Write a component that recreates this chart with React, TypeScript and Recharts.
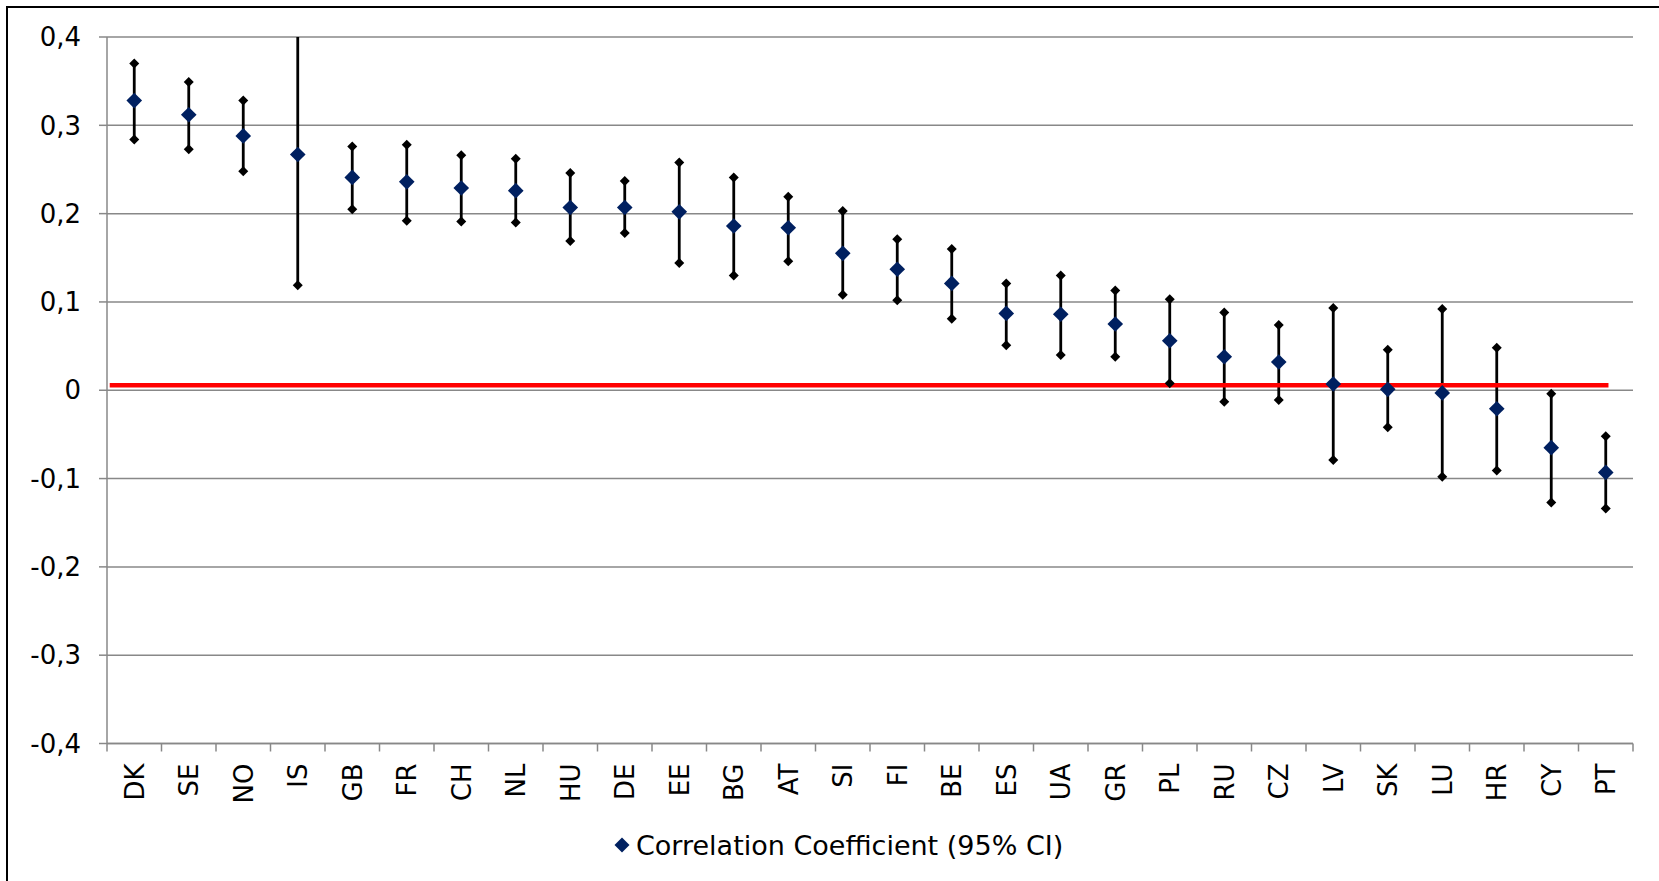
import React from 'react';
import {
  ComposedChart, Scatter, XAxis, YAxis, CartesianGrid, ErrorBar, ReferenceLine, Legend,
} from 'recharts';

const CATS = ['DK','SE','NO','IS','GB','FR','CH','NL','HU','DE','EE','BG','AT','SI','FI','BE','ES','UA','GR','PL','RU','CZ','LV','SK','LU','HR','CY','PT'];
const R = [0.328,0.312,0.288,0.267,0.241,0.236,0.229,0.226,0.207,0.207,0.202,0.186,0.184,0.155,0.137,0.121,0.087,0.086,0.075,0.056,0.038,0.032,0.007,0.001,-0.003,-0.021,-0.065,-0.093];
const LO = [0.284,0.273,0.248,0.119,0.205,0.192,0.191,0.190,0.169,0.178,0.144,0.130,0.146,0.108,0.102,0.081,0.051,0.040,0.038,0.008,-0.013,-0.011,-0.079,-0.042,-0.098,-0.091,-0.127,-0.134];
const HI = [0.370,0.349,0.328,0.415,0.276,0.278,0.266,0.262,0.246,0.237,0.258,0.241,0.219,0.203,0.171,0.160,0.121,0.130,0.113,0.103,0.088,0.074,0.093,0.046,0.092,0.048,-0.004,-0.052];
const YTICKS = [-0.4,-0.3,-0.2,-0.1,0,0.1,0.2,0.3,0.4];
const Y_MIN = -0.4;
const Y_MAX = 0.4;
const REF_Y = 0.0057;
const REF_X = [0.05, 27.55];
const SERIES_NAME = 'Correlation Coefficient (95% CI)';

// values beyond the axis range are clipped (like the plot area does in the original)
const clip = (v: number) => Math.max(Y_MIN, Math.min(Y_MAX, v));
const data = CATS.map((c, i) => ({
  c,
  idx: i,
  r: R[i],
  lo: LO[i] >= Y_MIN ? LO[i] : null,
  hi: HI[i] <= Y_MAX ? HI[i] : null,
  err: [R[i] - clip(LO[i]), clip(HI[i]) - R[i]],
}));

const FONT = '"DejaVu Sans", Verdana, sans-serif';
const FS = 26;
const GRID = '#888888';
const NAVY = '#002060';
const TICK_SIZE = 8;
const TICK_MARGIN = 12;
const PLOT_W = 1526;
const HALF_BAND = PLOT_W / CATS.length / 2;

const diamond = (cx: number, cy: number, r: number) =>
  `M${cx},${cy - r}L${cx + r},${cy}L${cx},${cy + r}L${cx - r},${cy}Z`;

const Big = (p: any) => (p.cx == null || p.cy == null ? <g /> : <path d={diamond(p.cx, p.cy, 7.8)} fill={NAVY} />);
const Small = (p: any) => (p.cx == null || p.cy == null || p.payload == null ? <g /> : <path d={diamond(p.cx, p.cy, 5)} fill="#000" />);

const XTick = (props: any) => {
  const { x, y, payload, index, visibleTicksCount } = props;
  const half = payload.offset || HALF_BAND;
  const axisY = y - TICK_SIZE - TICK_MARGIN;
  return (
    <g>
      <line x1={x - half} x2={x - half} y1={axisY} y2={axisY + TICK_SIZE} stroke={GRID} strokeWidth={1.5} />
      {index === visibleTicksCount - 1 && (
        <line x1={x + half} x2={x + half} y1={axisY} y2={axisY + TICK_SIZE} stroke={GRID} strokeWidth={1.5} />
      )}
      <text x={x} y={y} transform={`rotate(-90 ${x} ${y})`} textAnchor="end" dy="0.36em"
        fontFamily={FONT} fontSize={FS} fill="#000">{payload.value}</text>
    </g>
  );
};

const fmt = (v: number) => (Math.abs(v) < 1e-9 ? '0' : v.toFixed(1).replace('.', ','));

const LegendContent = (props: any) => {
  const items = (props.payload || []).filter((p: any) => p.dataKey === 'r');
  return (
    <div style={{ display: 'flex', alignItems: 'center', height: 40, fontFamily: FONT, fontSize: 27, color: '#000', whiteSpace: 'nowrap' }}>
      {items.map((it: any) => (
        <span key={it.value} style={{ display: 'flex', alignItems: 'center' }}>
          <svg width={16} height={16} style={{ display: 'block' }}>
            <path d={diamond(8, 8, 7.5)} fill={NAVY} />
          </svg>
          <span style={{ marginLeft: 6 }}>{it.value}</span>
        </span>
      ))}
    </div>
  );
};

export default function App() {
  return (
    <div style={{ position: 'absolute', left: 0, top: 0, width: 1659, height: 881, overflow: 'hidden', background: '#fff' }}>
      <div style={{ position: 'absolute', left: 6, top: 6, width: 1720, height: 900, borderTop: '2px solid #000', borderLeft: '2px solid #000', fontFamily: FONT }}>
        <ComposedChart width={1720} height={900} data={data} margin={{ top: 29, right: 95, bottom: 44.5, left: 19 }}>
          <CartesianGrid vertical={false} stroke={GRID} strokeWidth={1.5} />
          <XAxis dataKey="c" type="category" interval={0} tickLine={false} tickSize={TICK_SIZE} tickMargin={TICK_MARGIN}
            padding={{ left: HALF_BAND, right: HALF_BAND }}
            height={80} axisLine={{ stroke: GRID, strokeWidth: 1.5 }} tick={<XTick />} />
          <XAxis xAxisId="num" dataKey="idx" type="number" domain={[0, CATS.length]} allowDataOverflow hide />
          <YAxis type="number" domain={[Y_MIN, Y_MAX]} ticks={YTICKS} allowDataOverflow width={80}
            tickFormatter={fmt} tickSize={TICK_SIZE} tickMargin={18}
            axisLine={{ stroke: GRID, strokeWidth: 1.5 }} tickLine={{ stroke: GRID, strokeWidth: 1.5 }}
            tick={{ fontFamily: FONT, fontSize: FS, fill: '#000' }} />
          <Scatter dataKey="lo" shape={Small} legendType="none" isAnimationActive={false} />
          <Scatter dataKey="hi" shape={Small} legendType="none" isAnimationActive={false} />
          <Scatter dataKey="r" name={SERIES_NAME} fill={NAVY} shape={Big} isAnimationActive={false}>
            <ErrorBar dataKey="err" direction="y" width={0} stroke="#000" strokeWidth={2.8} isAnimationActive={false} />
          </Scatter>
          <ReferenceLine xAxisId="num" segment={[{ x: REF_X[0], y: REF_Y }, { x: REF_X[1], y: REF_Y }]}
            stroke="#ff0000" strokeWidth={4.5} ifOverflow="visible" />
          <Legend verticalAlign="bottom" content={<LegendContent />}
            wrapperStyle={{ left: 606, top: 817, bottom: 'auto', right: 'auto', width: 'auto', height: 40 }} />
        </ComposedChart>
      </div>
    </div>
  );
}
